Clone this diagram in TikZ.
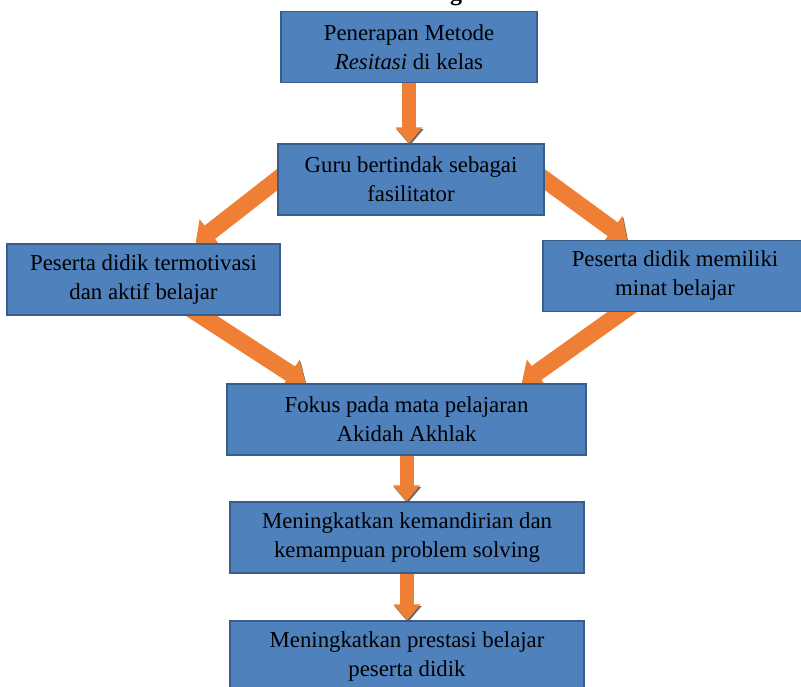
\documentclass[tikz,border=0pt]{standalone}
\usepackage{fontspec}
\setmainfont{Liberation Serif}
\usetikzlibrary{arrows.meta,backgrounds,calc}
\definecolor{boxblue}{RGB}{79,129,189}
\definecolor{boxline}{RGB}{56,93,138}
\definecolor{flow}{RGB}{238,127,52}

\begin{document}
\begin{tikzpicture}[x=0.5pt,y=-0.5pt,
  box/.style={draw=boxline,fill=boxblue,line width=0.6pt,minimum height=35.5pt,align=center,inner sep=0pt,font=\fontsize{11.4}{14.5}\selectfont},
  flowarrow/.style={draw=flow,line width=7pt,-{Triangle[width=13pt,length=8pt]},
    preaction={draw=black!60,transform canvas={shift={(0.5pt,-0.9pt)}}}},
  wideflow/.style={flowarrow,line width=8.5pt,-{Triangle[width=16pt,length=9pt]}}]
\clip (0,0) rectangle (801,686);
\node[font=\bfseries\fontsize{12}{14}\selectfont,anchor=base] (title) at (456,0) {g};
\node[box,minimum width=128pt] (top) at (409,47) {Penerapan Metode\\\textit{Resitasi} di kelas};
\node[box,minimum width=133pt] (guru) at (411,179.5) {Guru bertindak sebagai\\fasilitator};
\node[box,minimum width=136.5pt] (pdl) at (143.5,279.5) {Peserta didik termotivasi\\dan aktif belajar};
\node[box,minimum width=132pt] (pdr) at (675,276) {Peserta didik memiliki\\minat belajar};
\node[box,minimum width=179.5pt] (fokus) at (406.5,419.5) {Fokus pada mata pelajaran\\Akidah Akhlak};
\node[box,minimum width=177pt] (mandiri) at (407,537.5) {Meningkatkan kemandirian dan\\kemampuan problem solving};
\node[box,minimum width=177pt] (prestasi) at (407,656.5) {Meningkatkan prestasi belajar\\peserta didik};
\coordinate (gl) at ($(pdl.north west)!0.69!(pdl.north east)$);
\coordinate (gr) at ($(pdr.north west)!0.32!(pdr.north east)$);
\coordinate (ls) at ($(pdl.south west)!0.71!(pdl.south east)$);
\coordinate (rs) at ($(pdr.south west)!0.30!(pdr.south east)$);
\coordinate (fl) at ($(fokus.north west)!0.22!(fokus.north east)$);
\coordinate (fr) at ($(fokus.north west)!0.82!(fokus.north east)$);
\begin{scope}[on background layer]
\draw[flowarrow] (top.south) -- (top.south |- guru.north);
\draw[wideflow] ($(guru.west)!-8pt!(gl)$) -- (gl);
\draw[wideflow] ($(guru.east)!-8pt!(gr)$) -- (gr);
\draw[wideflow] ($(ls)!-8pt!(fl)$) -- (fl);
\draw[wideflow] ($(rs)!-8pt!(fr)$) -- (fr);
\draw[flowarrow] (fokus.south) -- (fokus.south |- mandiri.north);
\draw[flowarrow] (mandiri.south) -- (mandiri.south |- prestasi.north);
\end{scope}
\end{tikzpicture}
\end{document}
